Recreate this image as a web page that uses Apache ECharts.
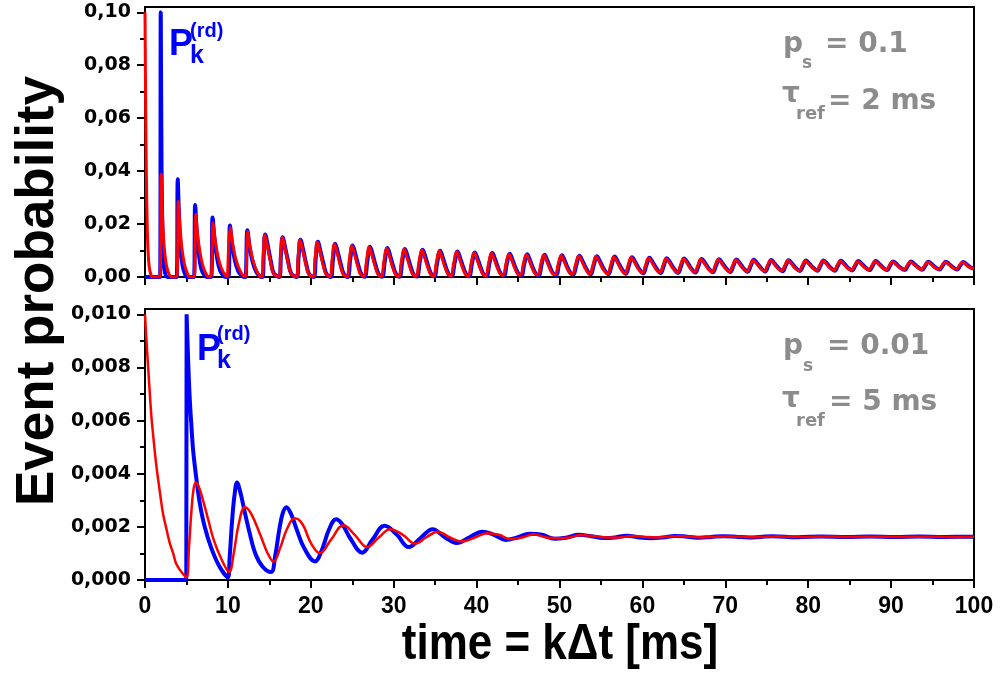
<!DOCTYPE html>
<html>
<head>
<meta charset="utf-8">
<script src="https://cdn.jsdelivr.net/npm/echarts@6.0.0/dist/echarts.min.js"></script>
<style>html,body{margin:0;padding:0;background:#fff}#c{width:1000px;height:674px}</style>
</head>
<body>
<div id="c"></div>
<script>
// ---- data: [time ms, event probability] ----
const topBlue = [
[0,0],[1.82,0],[1.9,0.1],[1.97,0.055],[2.05,0.026],[2.2,0.009],[2.4,0.002],[2.7,0],
[3.82,0],[3.95,0.0369],[4.1,0.023],[4.3,0.011],[4.55,0.004],[4.85,0.001],[5.1,0],
[5.9,0],[6.05,0.0272],[6.25,0.0165],[6.5,0.0085],[6.8,0.003],[7.15,0.0007],[7.45,0],
[7.98,0],[8.15,0.0225],[8.4,0.014],[8.7,0.007],[9.05,0.0025],[9.45,0.0005],[9.75,0],
[10.05,0],[10.25,0.0195],[10.5,0.0125],[10.85,0.0062],[11.25,0.0022],[11.65,0.0005],[11.95,0],
[12.12,0],[12.35,0.0177],[12.62,0.0115],[12.98,0.0058],[13.4,0.0021],[13.8,0.0004],
[14.15,0],[14.33,0.0089],[14.5,0.0161],[14.85,0.0113],[15.2,0.0056],[15.55,0.0013],
[16.2,0],[16.4,0.0083],[16.6,0.0150],[16.95,0.0105],[17.3,0.0053],[17.65,0.0012],
[18.3,0],[18.53,0.0078],[18.75,0.0141],[19.1,0.0099],[19.45,0.0049],[19.8,0.0011],
[20.35,0],[20.6,0.0073],[20.85,0.0133],[21.2,0.0093],[21.55,0.0047],[21.9,0.0011],
[22.4,0],[22.68,0.0069],[22.95,0.0126],[23.3,0.0088],[23.65,0.0044],[24.0,0.0010],
[24.45,0],[24.75,0.0065],[25.05,0.0119],[25.4,0.0083],[25.75,0.0042],[26.1,0.0010],
[26.5,0.0001],[26.83,0.0063],[27.15,0.0114],[27.5,0.0080],[27.85,0.0041],[28.2,0.0010],
[28.6,0.0001],[28.93,0.0061],[29.25,0.0110],[29.6,0.0077],[29.95,0.0039],[30.3,0.0010],
[30.7,0.0001],[31.03,0.0059],[31.35,0.0106],[31.7,0.0075],[32.05,0.0038],[32.4,0.0009],
[32.8,0.0002],[33.15,0.0058],[33.5,0.0103],[33.85,0.0073],[34.2,0.0037],[34.55,0.0010],
[34.9,0.0002],[35.25,0.0055],[35.6,0.0099],[35.95,0.0070],[36.3,0.0036],[36.65,0.0010],
[37.0,0.0003],[37.35,0.0054],[37.7,0.0096],[38.05,0.0068],[38.4,0.0036],[38.75,0.0010],
[39.1,0.0003],[39.45,0.0053],[39.8,0.0093],[40.15,0.0066],[40.5,0.0035],[40.85,0.0010],
[41.2,0.0004],[41.55,0.0052],[41.9,0.0091],[42.25,0.0065],[42.6,0.0034],[42.95,0.0011],
[43.3,0.0005],[43.65,0.0051],[44.0,0.0088],[44.35,0.0063],[44.7,0.0034],[45.05,0.0012],
[45.4,0.0006],[45.75,0.0050],[46.1,0.0086],[46.45,0.0062],[46.8,0.0034],[47.15,0.0012],
[47.5,0.0007],[47.85,0.0049],[48.2,0.0084],[48.55,0.0061],[48.9,0.0034],[49.25,0.0013],
[49.6,0.0008],[49.95,0.0049],[50.3,0.0082],[50.65,0.0060],[51.0,0.0034],[51.35,0.0014],
[51.65,0.0009],[52.03,0.0045],[52.4,0.0080],[52.8,0.0059],[53.25,0.0030],
[53.75,0.0010],[54.13,0.0044],[54.5,0.0078],[54.9,0.0058],[55.35,0.0030],
[55.9,0.0011],[56.28,0.0044],[56.65,0.0077],[57.05,0.0057],[57.5,0.0031],
[58.0,0.0012],[58.38,0.0044],[58.75,0.0075],[59.15,0.0056],[59.6,0.0031],
[60.1,0.0014],[60.48,0.0044],[60.85,0.0073],[61.25,0.0055],[61.7,0.0032],
[62.2,0.0015],[62.58,0.0043],[62.95,0.0071],[63.35,0.0054],[63.8,0.0032],
[64.3,0.0016],[64.68,0.0043],[65.05,0.0070],[65.45,0.0054],[65.9,0.0032],
[66.4,0.0017],[66.78,0.0043],[67.15,0.0068],[67.55,0.0053],[68.0,0.0032],
[68.5,0.0018],[68.88,0.0043],[69.25,0.0067],[69.65,0.0052],[70.1,0.0033],
[70.6,0.0019],[70.98,0.0043],[71.35,0.0066],[71.75,0.0052],[72.2,0.0033],
[72.7,0.0020],[73.08,0.0043],[73.45,0.0065],[73.85,0.0052],[74.3,0.0034],
[74.8,0.0021],[75.18,0.0043],[75.55,0.0064],[75.95,0.0051],[76.4,0.0034],
[76.9,0.0022],[77.28,0.0043],[77.65,0.0063],[78.05,0.0051],[78.5,0.0034],
[79.0,0.0023],[79.38,0.0043],[79.75,0.0062],[80.15,0.0050],[80.6,0.0035],
[81.1,0.0024],[81.48,0.0043],[81.85,0.0062],[82.25,0.0051],[82.7,0.0035],
[83.2,0.0024],[83.58,0.0043],[83.95,0.0061],[84.35,0.0050],[84.8,0.0035],
[85.3,0.0025],[85.68,0.0043],[86.05,0.0060],[86.45,0.0050],[86.9,0.0036],
[87.4,0.0026],[87.78,0.0043],[88.15,0.0060],[88.55,0.0050],[89.0,0.0036],
[89.5,0.0026],[89.88,0.0043],[90.25,0.0059],[90.65,0.0049],[91.1,0.0036],
[91.65,0.0027],[92.03,0.0043],[92.4,0.0059],[92.8,0.0049],[93.25,0.0037],
[93.75,0.0027],[94.13,0.0043],[94.5,0.0058],[94.9,0.0049],[95.35,0.0036],
[95.85,0.0028],[96.23,0.0043],[96.6,0.0058],[97.0,0.0049],[97.45,0.0037],
[97.95,0.0028],[98.33,0.0043],[98.7,0.0057],[99.1,0.0048],[99.55,0.0037],
[100,0.0032]
];
const topRed = [
[0,0.1],[0.08,0.065],[0.16,0.040],[0.25,0.022],[0.35,0.011],[0.5,0.004],[0.7,0.001],[0.95,0],
[1.8,0],[1.95,0.0389],[2.1,0.024],[2.3,0.012],[2.55,0.005],[2.85,0.0015],[3.2,0],
[3.82,0],[4.02,0.0286],[4.22,0.019],[4.45,0.011],[4.75,0.005],[5.1,0.0015],[5.45,0],
[5.9,0],[6.12,0.0237],[6.35,0.016],[6.65,0.009],[7.0,0.004],[7.4,0.001],[7.7,0],
[7.95,0],[8.2,0.0205],[8.45,0.0142],[8.8,0.0078],[9.2,0.0034],[9.65,0.0008],[9.95,0],
[10.02,0],[10.3,0.0186],[10.58,0.0125],[10.95,0.0068],[11.4,0.0028],[11.8,0.0006],
[12.1,0],[12.38,0.0172],[12.66,0.0113],[13.05,0.006],[13.45,0.0024],[13.8,0.0005],
[14.1,0],[14.28,0.0087],[14.45,0.0159],[14.8,0.0111],[15.15,0.0056],[15.5,0.0013],
[16.17,0],[16.37,0.0082],[16.57,0.0149],[16.92,0.0104],[17.27,0.0052],[17.62,0.0012],
[18.25,0],[18.48,0.0077],[18.7,0.0140],[19.05,0.0098],[19.4,0.0049],[19.75,0.0011],
[20.28,0],[20.53,0.0073],[20.78,0.0132],[21.13,0.0092],[21.48,0.0046],[21.83,0.0011],
[22.3,0.0001],[22.58,0.0069],[22.85,0.0125],[23.2,0.0088],[23.55,0.0044],[23.9,0.0011],
[24.35,0.0001],[24.65,0.0065],[24.95,0.0118],[25.3,0.0083],[25.65,0.0042],[26.0,0.0010],
[26.4,0.0002],[26.73,0.0063],[27.05,0.0113],[27.4,0.0080],[27.75,0.0041],[28.1,0.0011],
[28.5,0.0002],[28.83,0.0061],[29.15,0.0109],[29.5,0.0077],[29.85,0.0039],[30.2,0.0011],
[30.6,0.0002],[30.93,0.0059],[31.25,0.0105],[31.6,0.0074],[31.95,0.0038],[32.3,0.0010],
[32.7,0.0003],[33.05,0.0057],[33.4,0.0102],[33.75,0.0072],[34.1,0.0038],[34.45,0.0011],
[34.8,0.0003],[35.15,0.0055],[35.5,0.0098],[35.85,0.0070],[36.2,0.0036],[36.55,0.0011],
[36.9,0.0004],[37.25,0.0054],[37.6,0.0095],[37.95,0.0068],[38.3,0.0036],[38.65,0.0011],
[39.0,0.0004],[39.35,0.0052],[39.7,0.0092],[40.05,0.0066],[40.4,0.0035],[40.75,0.0011],
[41.1,0.0005],[41.45,0.0052],[41.8,0.0090],[42.15,0.0065],[42.5,0.0035],[42.85,0.0012],
[43.2,0.0006],[43.55,0.0051],[43.9,0.0087],[44.25,0.0063],[44.6,0.0034],[44.95,0.0012],
[45.3,0.0007],[45.65,0.0050],[46.0,0.0085],[46.35,0.0062],[46.7,0.0034],[47.05,0.0013],
[47.4,0.0008],[47.75,0.0049],[48.1,0.0083],[48.45,0.0061],[48.8,0.0034],[49.15,0.0014],
[49.5,0.0009],[49.85,0.0049],[50.2,0.0081],[50.55,0.0059],[50.9,0.0034],[51.25,0.0015],
[51.55,0.0010],[51.93,0.0045],[52.3,0.0079],[52.7,0.0059],[53.15,0.0030],
[53.65,0.0011],[54.03,0.0044],[54.4,0.0077],[54.8,0.0058],[55.25,0.0030],
[55.8,0.0012],[56.18,0.0044],[56.55,0.0076],[56.95,0.0057],[57.4,0.0031],
[57.9,0.0013],[58.28,0.0044],[58.65,0.0074],[59.05,0.0056],[59.5,0.0031],
[60.0,0.0015],[60.38,0.0044],[60.75,0.0072],[61.15,0.0055],[61.6,0.0032],
[62.1,0.0016],[62.48,0.0043],[62.85,0.0070],[63.25,0.0054],[63.7,0.0032],
[64.2,0.0017],[64.58,0.0043],[64.95,0.0069],[65.35,0.0054],[65.8,0.0032],
[66.3,0.0018],[66.68,0.0043],[67.05,0.0067],[67.45,0.0053],[67.9,0.0032],
[68.4,0.0019],[68.78,0.0043],[69.15,0.0066],[69.55,0.0052],[70.0,0.0033],
[70.5,0.0020],[70.88,0.0043],[71.25,0.0065],[71.65,0.0052],[72.1,0.0033],
[72.6,0.0021],[72.98,0.0043],[73.35,0.0064],[73.75,0.0052],[74.2,0.0034],
[74.7,0.0022],[75.08,0.0043],[75.45,0.0063],[75.85,0.0051],[76.3,0.0034],
[76.8,0.0023],[77.18,0.0043],[77.55,0.0062],[77.95,0.0051],[78.4,0.0034],
[78.9,0.0024],[79.28,0.0043],[79.65,0.0061],[80.05,0.0050],[80.5,0.0035],
[81.0,0.0025],[81.38,0.0043],[81.75,0.0061],[82.15,0.0051],[82.6,0.0035],
[83.1,0.0025],[83.48,0.0043],[83.85,0.0060],[84.25,0.0050],[84.7,0.0035],
[85.2,0.0026],[85.58,0.0043],[85.95,0.0059],[86.35,0.0050],[86.8,0.0036],
[87.3,0.0027],[87.68,0.0043],[88.05,0.0059],[88.45,0.0050],[88.9,0.0036],
[89.4,0.0027],[89.78,0.0043],[90.15,0.0058],[90.55,0.0049],[91.0,0.0036],
[91.55,0.0028],[91.93,0.0043],[92.3,0.0058],[92.7,0.0049],[93.15,0.0037],
[93.65,0.0028],[94.03,0.0043],[94.4,0.0057],[94.8,0.0049],[95.25,0.0036],
[95.75,0.0029],[96.13,0.0043],[96.5,0.0057],[96.9,0.0049],[97.35,0.0037],
[97.85,0.0029],[98.23,0.0043],[98.6,0.0056],[99.0,0.0048],[99.45,0.0037],
[100,0.0033]
];
const bottomBlue = [
[0,0],[4.98,0],[5.02,0.0100],[5.2,0.0083],[5.4,0.0068],[5.6,0.0058],[5.8,0.0049],[6.2,0.0038],
[6.6,0.0029],[7.2,0.0020],[8.0,0.0012],[9.0,0.0005],[10.0,0.0001],[10.2,0.0008],[10.5,0.0022],
[10.8,0.0032],[11.1,0.00367],[11.5,0.0033],[12.0,0.0026],[12.6,0.0018],[13.3,0.0010],[14.2,0.0005],
[15.2,0.0003],[15.7,0.0009],[16.2,0.0019],[16.6,0.0025],[17.05,0.00274],[17.6,0.0025],[18.3,0.0019],
[19.2,0.0012],[20.5,0.0007],[21.3,0.0011],[22.2,0.0019],[23.05,0.00229],[23.8,0.0021],[24.7,0.0016],
[26.2,0.00103],[27.4,0.0015],[28.9,0.00204],[30.4,0.0017],[31.8,0.00124],[33.3,0.0016],[34.7,0.00191],
[36.2,0.0016],[37.6,0.00139],[39.1,0.0016],[40.7,0.00182],[42.1,0.0017],[43.5,0.00151],[44.9,0.0016],
[46.4,0.00174],[47.9,0.0017],[49.4,0.00155],[50.9,0.0016],[52.3,0.00170],[53.8,0.00165],[55.3,0.00158],
[56.7,0.0016],[58.1,0.00167],[59.6,0.0016],[61.0,0.00157],[62.5,0.0016],[63.9,0.00166],[65.4,0.00163],
[66.9,0.00159],[68.3,0.00162],[69.8,0.00165],[71.3,0.00163],[72.8,0.00160],[74.2,0.00162],[75.7,0.00165],
[78.7,0.00161],[81.6,0.00164],[84.6,0.00162],[87.5,0.00164],[90.5,0.00162],[93.4,0.00164],[96.4,0.00162],
[99.3,0.00163],[100,0.00163]
];
const bottomRed = [
[0,0.0100],[0.2,0.0089],[0.4,0.0079],[0.76,0.0062],[1.0,0.0054],[1.37,0.0043],[1.8,0.0033],[2.17,0.0025],
[2.6,0.0019],[2.98,0.0014],[3.4,0.0010],[3.78,0.0006],[4.4,0.0003],[5.0,0.0001],[5.3,0.0012],[5.6,0.0026],
[5.85,0.0034],[6.12,0.00367],[6.5,0.0035],[7.0,0.0030],[7.6,0.0023],[8.3,0.0015],[9.2,0.0008],[10.15,0.0003],
[10.7,0.0010],[11.3,0.0021],[12.05,0.00274],[12.8,0.0025],[13.9,0.0017],[14.8,0.0010],[15.5,0.00069],
[16.3,0.0012],[17.1,0.0019],[18.05,0.00232],[19.0,0.0021],[20.0,0.0014],[21.1,0.00101],[22.4,0.0015],
[23.95,0.00206],[25.3,0.0017],[26.8,0.00124],[28.2,0.0016],[29.6,0.00191],[31.1,0.0017],[32.6,0.00137],
[33.9,0.0016],[35.3,0.00182],[36.8,0.0016],[38.2,0.00145],[39.8,0.0016],[41.3,0.00176],[42.7,0.0017],
[44.1,0.00154],[45.5,0.0016],[46.9,0.00172],[48.4,0.0016],[49.9,0.00157],[51.2,0.0016],[52.6,0.00169],
[54.2,0.00165],[55.8,0.00160],[57.2,0.0016],[58.6,0.00166],[60.1,0.00163],[61.6,0.00160],[63.0,0.00163],
[64.5,0.00165],[67.5,0.00161],[70.4,0.00164],[73.4,0.00161],[76.3,0.00164],[79.3,0.00162],[82.2,0.00164],
[85.2,0.00162],[88.1,0.00163],[91.1,0.00162],[94.0,0.00163],[97.0,0.00162],[100,0.00163]
];
// ---- axis ticks ----
const xMin = 0, xMax = 100, xStep = 10;
const yTopMajor = [0, 0.02, 0.04, 0.06, 0.08, 0.10];
const yTopMinor = [0.01, 0.03, 0.05, 0.07, 0.09];
const yBotMajor = [0, 0.002, 0.004, 0.006, 0.008, 0.010];
const yBotMinor = [0.001, 0.003, 0.005, 0.007, 0.009];
const yTopMax = 0.102, yBotMax = 0.0102;

const BLUE = '#0000ff', RED = '#ff0000', GRAY = '#8c8c8c';
const chart = echarts.init(document.getElementById('c'), null, {renderer: 'canvas'});

function xAx(grid, showLabel) {
  return {
    type: 'value', gridIndex: grid, min: xMin, max: xMax, interval: xStep,
    axisLine: {show: true, onZero: false, lineStyle: {color: '#000', width: 2}},
    axisTick: {show: true, inside: false, length: 8, lineStyle: {color: '#000', width: 2}},
    minorTick: {show: true, splitNumber: 2, length: 5, lineStyle: {color: '#000', width: 2}},
    splitLine: {show: false},
    axisLabel: {show: showLabel, margin: 15, color: '#000', fontWeight: 'bold', fontSize: 23,
      fontFamily: '"Liberation Sans", Arial, sans-serif'}
  };
}
function yMain(grid, max, ticks, dec) {
  return {
    type: 'value', gridIndex: grid, min: 0, max: max, position: 'left',
    axisLine: {show: true, lineStyle: {color: '#000', width: 2}},
    axisTick: {show: true, inside: false, length: 8, customValues: ticks, lineStyle: {color: '#000', width: 2}},
    splitLine: {show: false},
    axisLabel: {show: true, customValues: ticks, margin: 14, color: '#000', fontWeight: 'bold', fontSize: 19,
      fontFamily: '"DejaVu Sans", sans-serif',
      formatter: v => v.toFixed(dec).replace('.', ',')}
  };
}
function yMinor(grid, max, ticks) {
  return {
    type: 'value', gridIndex: grid, min: 0, max: max, position: 'left', offset: 0,
    axisLine: {show: false},
    axisTick: {show: true, inside: false, length: 5, customValues: ticks, lineStyle: {color: '#000', width: 2}},
    splitLine: {show: false},
    axisLabel: {show: false}
  };
}
function txt(x, y, s, size, color, family, extra) {
  return Object.assign({
    type: 'text', x: x, y: y, z: 100,
    style: {text: s, fill: color, font: 'bold ' + size + 'px ' + family,
      textAlign: 'left', textVerticalAlign: 'middle', align: 'left', verticalAlign: 'middle'}
  }, extra || {});
}
const DJ = '"DejaVu Sans", sans-serif';
const LS = '"Liberation Sans", Arial, sans-serif';

chart.setOption({
  animation: false,
  backgroundColor: '#fff',
  grid: [
    {left: 145, right: 26, top: 7, height: 270, show: true, borderColor: '#000', borderWidth: 2, backgroundColor: 'transparent'},
    {left: 145, right: 26, top: 309, height: 271, show: true, borderColor: '#000', borderWidth: 2, backgroundColor: 'transparent'}
  ],
  xAxis: [xAx(0, false), xAx(1, true)],
  yAxis: [yMain(0, yTopMax, yTopMajor, 2), yMinor(0, yTopMax, yTopMinor),
          yMain(1, yBotMax, yBotMajor, 3), yMinor(1, yBotMax, yBotMinor)],
  series: [
    {type: 'line', xAxisIndex: 0, yAxisIndex: 0, data: topBlue, showSymbol: false, smooth: 0.4,
     lineStyle: {color: BLUE, width: 4}, itemStyle: {color: BLUE}, z: 2},
    {type: 'line', xAxisIndex: 0, yAxisIndex: 0, data: topRed, showSymbol: false, smooth: 0.4,
     lineStyle: {color: RED, width: 3}, itemStyle: {color: RED}, z: 3},
    {type: 'line', xAxisIndex: 1, yAxisIndex: 2, data: bottomBlue, showSymbol: false, smooth: 0.4,
     lineStyle: {color: BLUE, width: 4}, itemStyle: {color: BLUE}, z: 2},
    {type: 'line', xAxisIndex: 1, yAxisIndex: 2, data: bottomRed, showSymbol: false, smooth: 0.4,
     lineStyle: {color: RED, width: 2.5}, itemStyle: {color: RED}, z: 3}
  ],
  graphic: [
    txt(38, 291, 'Event probability', 52, '#000', LS,
      {rotation: Math.PI / 2, style: {text: 'Event probability', fill: '#000', font: 'bold 53px ' + LS,
        textAlign: 'center', textVerticalAlign: 'middle', align: 'center', verticalAlign: 'middle'}}),
    txt(560, 645, 'time = k\u0394t [ms]', 50, '#000', LS,
      {scaleX: 0.88, style: {text: 'time = k\u0394t [ms]', fill: '#000',
        font: 'bold 50px ' + LS,
        textAlign: 'center', textVerticalAlign: 'middle', align: 'center', verticalAlign: 'middle'}}),
    // top panel labels
    txt(169, 45, 'P', 36, BLUE, LS),
    txt(190, 56, 'k', 25, BLUE, LS),
    txt(190, 31, '(rd)', 20, BLUE, LS),
    txt(783, 45, 'p', 28, GRAY, DJ),
    txt(802, 64, 's', 17, GRAY, DJ),
    txt(825, 45, '= 0.1', 28, GRAY, DJ),
    txt(782, 95, '\u03c4', 28, GRAY, DJ),
    txt(796, 114, 'ref', 18, GRAY, DJ),
    txt(828, 102, '= 2 ms', 28, GRAY, DJ),
    // bottom panel labels
    txt(197, 350, 'P', 36, BLUE, LS),
    txt(217, 361, 'k', 25, BLUE, LS),
    txt(217, 334, '(rd)', 20, BLUE, LS),
    txt(783, 347, 'p', 28, GRAY, DJ),
    txt(803, 367, 's', 17, GRAY, DJ),
    txt(827, 347, '= 0.01', 28, GRAY, DJ),
    txt(782, 400, '\u03c4', 28, GRAY, DJ),
    txt(796, 421, 'ref', 18, GRAY, DJ),
    txt(829, 403, '= 5 ms', 28, GRAY, DJ)
  ]
});
</script>
</body>
</html>
